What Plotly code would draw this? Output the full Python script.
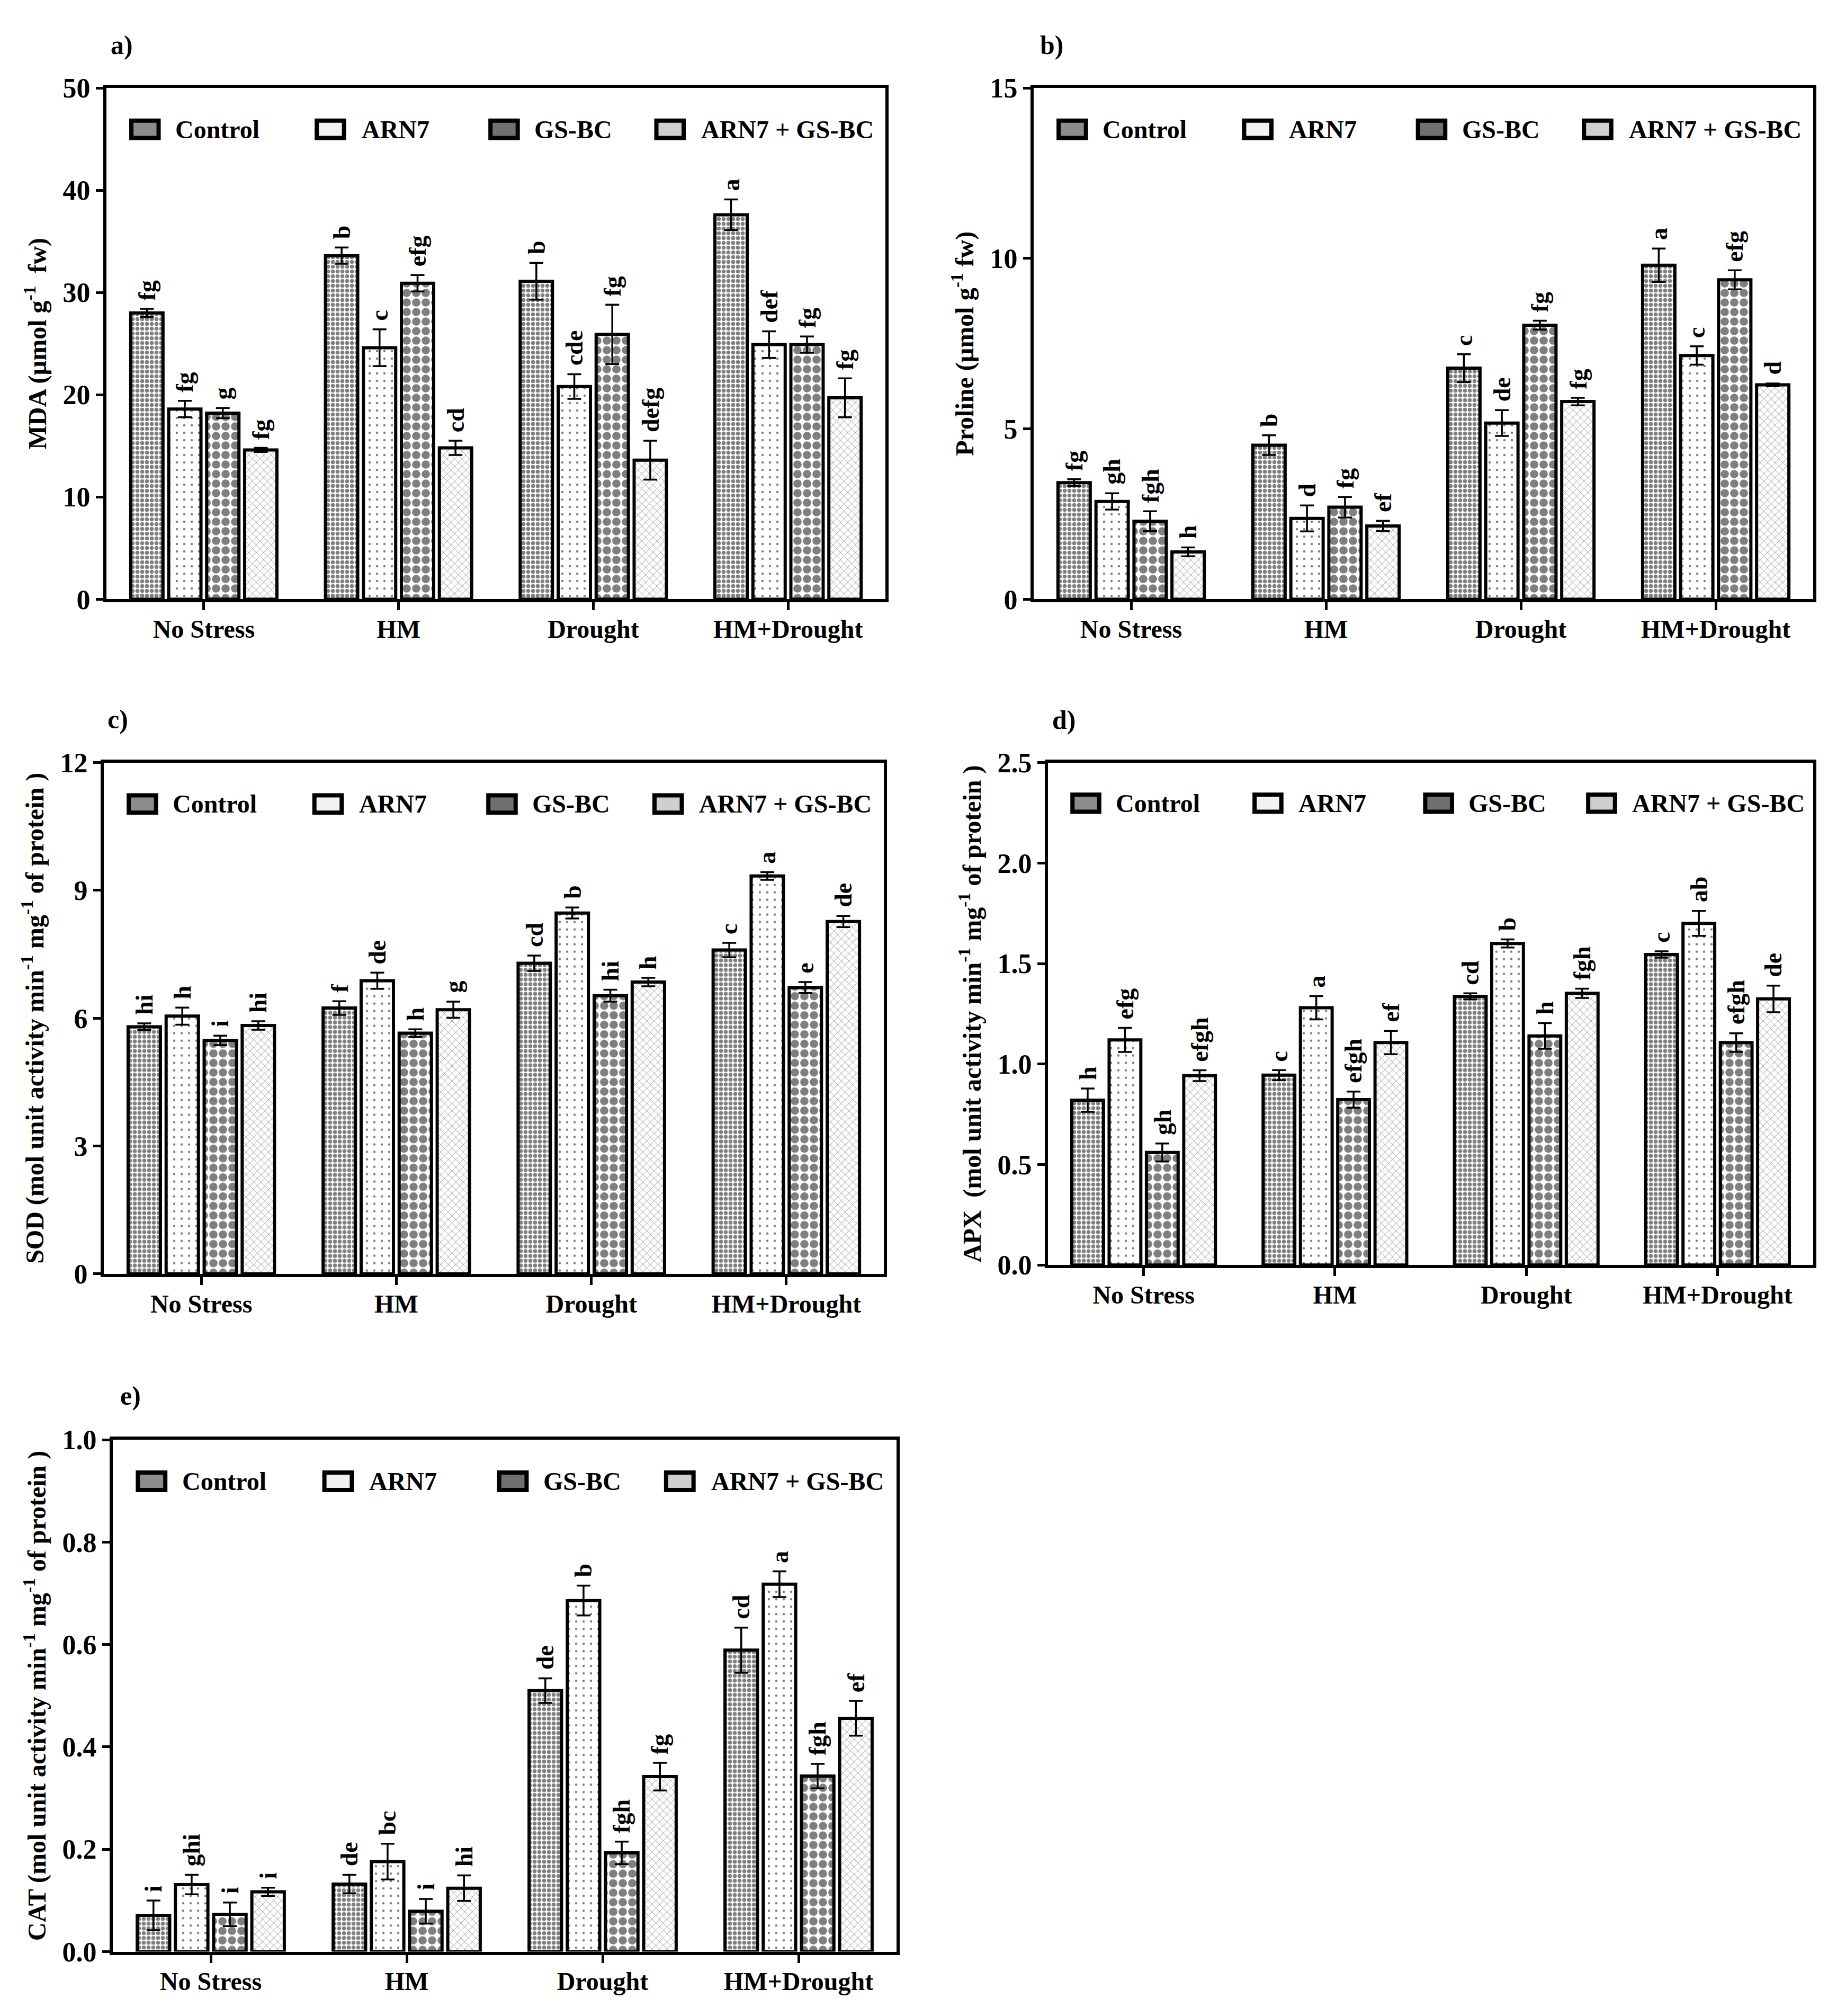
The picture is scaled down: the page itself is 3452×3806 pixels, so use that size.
import plotly.graph_objects as go

W, H = 3452, 3806

groups = ["No Stress", "HM", "Drought", "HM+Drought"]
treatments = ["Control", "ARN7", "GS-BC", "ARN7 + GS-BC"]

# rows = treatments (Control, ARN7, GS-BC, ARN7 + GS-BC), columns = groups
mda_mean = [[28.0, 33.6, 31.1, 37.6], [18.6, 24.6, 20.8, 24.9],
            [18.2, 30.9, 25.9, 24.9], [14.6, 14.8, 13.6, 19.7]]
mda_sd = [[0.4, 0.8, 1.8, 1.5], [0.8, 1.8, 1.2, 1.3],
          [0.5, 0.8, 2.9, 0.8], [0.2, 0.7, 1.9, 1.9]]
mda_letters = [["fg", "b", "b", "a"], ["fg", "c", "cde", "def"],
               ["g", "efg", "fg", "fg"], ["fg", "cd", "defg", "fg"]]

proline_mean = [[3.42, 4.52, 6.78, 9.80], [2.87, 2.37, 5.17, 7.15],
                [2.29, 2.70, 8.04, 9.37], [1.39, 2.15, 5.80, 6.29]]
proline_sd = [[0.10, 0.29, 0.41, 0.49], [0.24, 0.38, 0.38, 0.27],
              [0.29, 0.30, 0.13, 0.28], [0.13, 0.15, 0.11, 0.04]]
proline_letters = [["fg", "b", "c", "a"], ["gh", "d", "de", "c"],
                   ["fgh", "fg", "fg", "efg"], ["h", "ef", "fg", "d"]]

sod_mean = [[5.80, 6.24, 7.29, 7.60], [6.05, 6.88, 8.47, 9.34],
            [5.48, 5.65, 6.53, 6.72], [5.83, 6.20, 6.85, 8.27]]
sod_sd = [[0.08, 0.16, 0.18, 0.17], [0.20, 0.19, 0.13, 0.09],
          [0.11, 0.09, 0.14, 0.13], [0.10, 0.19, 0.10, 0.13]]
sod_letters = [["hi", "f", "cd", "c"], ["h", "de", "b", "a"],
               ["i", "h", "hi", "e"], ["hi", "g", "h", "de"]]

apx_mean = [[0.82, 0.945, 1.337, 1.545], [1.12, 1.28, 1.60, 1.70],
            [0.56, 0.823, 1.14, 1.107], [0.942, 1.107, 1.352, 1.324]]
apx_sd = [[0.058, 0.025, 0.015, 0.016], [0.060, 0.058, 0.020, 0.062],
          [0.045, 0.040, 0.064, 0.046], [0.027, 0.058, 0.023, 0.066]]
apx_letters = [["h", "c", "cd", "c"], ["efg", "a", "b", "ab"],
               ["gh", "efgh", "h", "efgh"], ["efgh", "ef", "fgh", "de"]]

cat_mean = [[0.071, 0.132, 0.510, 0.589], [0.131, 0.176, 0.686, 0.718],
            [0.073, 0.079, 0.193, 0.343], [0.117, 0.124, 0.342, 0.456]]
cat_sd = [[0.029, 0.018, 0.024, 0.044], [0.019, 0.035, 0.029, 0.025],
          [0.023, 0.024, 0.022, 0.024], [0.008, 0.025, 0.027, 0.034]]
cat_letters = [["i", "de", "de", "cd"], ["ghi", "bc", "b", "a"],
               ["i", "i", "fgh", "fgh"], ["i", "hi", "fg", "ef"]]

panels = [
    dict(tag="a)", mean=mda_mean, sd=mda_sd, letters=mda_letters,
         title="MDA (µmol g<sup>-1</sup>  fw)", ymax=50, dtick=10, fmt="d",
         box=(193, 1664, 132, 1112), lab=(222, 50)),
    dict(tag="b)", mean=proline_mean, sd=proline_sd, letters=proline_letters,
         title="Proline (µmol g<sup>-1</sup> fw)", ymax=15, dtick=5, fmt="d",
         box=(1944, 3416, 132, 1112), lab=(1978, 50)),
    dict(tag="c)", mean=sod_mean, sd=sod_sd, letters=sod_letters,
         title="SOD (mol unit activity min<sup>-1</sup> mg<sup>-1</sup> of protein )",
         ymax=12, dtick=3, fmt="d", box=(188, 1661, 1425, 2405), lab=(214, 1342)),
    dict(tag="d)", mean=apx_mean, sd=apx_sd, letters=apx_letters,
         title="APX  (mol unit activity min<sup>-1</sup> mg<sup>-1</sup> of protein )",
         ymax=2.5, dtick=0.5, fmt=".1f", box=(1971, 3416, 1425, 2388), lab=(2001, 1343)),
    dict(tag="e)", mean=cat_mean, sd=cat_sd, letters=cat_letters,
         title="CAT (mol unit activity min<sup>-1</sup> mg<sup>-1</sup> of protein )",
         ymax=1.0, dtick=0.2, fmt=".1f", box=(205, 1685, 2723, 3704), lab=(238, 2639)),
]

patterns = [dict(shape=".", size=9, solidity=0.55),
            dict(shape=".", size=14, solidity=0.08),
            dict(shape=".", size=18, solidity=0.6),
            dict(shape="x", size=10, solidity=0.15)]
icon_fill = ["#8c8c8c", "#f2f2f2", "#707070", "#cfcfcf"]
icon_x = [0.032, 0.270, 0.493, 0.706]
text_x = [0.087, 0.326, 0.548, 0.762]

FONT = "Liberation Serif"
bargap, bargroupgap = 0.22, 0.15
slot = (1 - bargap) / 4

fig = go.Figure()
layout = dict(width=W, height=H, margin=dict(l=0, r=0, t=0, b=0),
              plot_bgcolor="white", paper_bgcolor="white",
              barmode="group", bargap=bargap, bargroupgap=bargroupgap,
              showlegend=False,
              font=dict(family=FONT, color="black", weight="bold"))
annotations, shapes = [], []

for p_i, p in enumerate(panels):
    n = "" if p_i == 0 else str(p_i + 1)
    xa, ya = "x" + n, "y" + n
    x0, x1, y0, y1 = p["box"]
    for k, name in enumerate(treatments):
        fig.add_trace(go.Bar(
            x=groups, y=p["mean"][k], name=name, xaxis=xa, yaxis=ya,
            error_y=dict(type="data", array=p["sd"][k], color="black",
                         thickness=3.5, width=13),
            marker=dict(color="white", line=dict(color="black", width=6),
                        pattern=dict(fgcolor="black", bgcolor="white",
                                     **patterns[k]))))
        off = -(1 - bargap) / 2 + slot * (k + 0.5)
        for g_i in range(len(groups)):
            annotations.append(dict(
                x=g_i + off, y=p["mean"][k][g_i] + p["sd"][k][g_i],
                xref=xa, yref=ya, text=p["letters"][k][g_i], showarrow=False,
                textangle=-90, xanchor="center", yanchor="bottom", yshift=14,
                font=dict(family=FONT, size=46, weight="bold")))
        # legend icons and labels
        shapes.append(dict(type="rect", xref=xa + " domain", yref=ya + " domain",
                           x0=icon_x[k], x1=icon_x[k] + 0.035, y0=0.902, y1=0.936,
                           fillcolor=icon_fill[k], line=dict(color="black", width=8)))
        annotations.append(dict(x=text_x[k], y=0.919, xref=xa + " domain",
                                yref=ya + " domain", text=name, showarrow=False,
                                xanchor="left", yanchor="middle",
                                font=dict(family=FONT, size=48, weight="bold")))
    annotations.append(dict(x=p["lab"][0] / W, y=1 - p["lab"][1] / H, xref="paper",
                            yref="paper", text=p["tag"], showarrow=False,
                            xanchor="center", yanchor="middle",
                            font=dict(family=FONT, size=50, weight="bold")))
    axis_line = dict(showline=True, linecolor="black", linewidth=6, mirror=True,
                     showgrid=False, zeroline=False, ticks="outside",
                     tickcolor="black", tickwidth=5)
    layout["xaxis" + n] = dict(axis_line, domain=[x0 / W, x1 / W], anchor=ya,
                               type="category", range=[-0.5, 3.5], ticklen=15,
                               ticklabelstandoff=-6,
                               tickfont=dict(family=FONT, size=48, weight="bold"))
    layout["yaxis" + n] = dict(axis_line, domain=[1 - y1 / H, 1 - y0 / H], anchor=xa,
                               range=[0, p["ymax"]], dtick=p["dtick"],
                               tickformat=p["fmt"], ticklen=14,
                               tickfont=dict(family=FONT, size=52, weight="bold"),
                               title=dict(text=p["title"], standoff=18,
                                          font=dict(family=FONT, size=48,
                                                    weight="bold")))

layout["annotations"] = annotations
layout["shapes"] = shapes
fig.update_layout(**layout)
fig.write_html("out.html")
